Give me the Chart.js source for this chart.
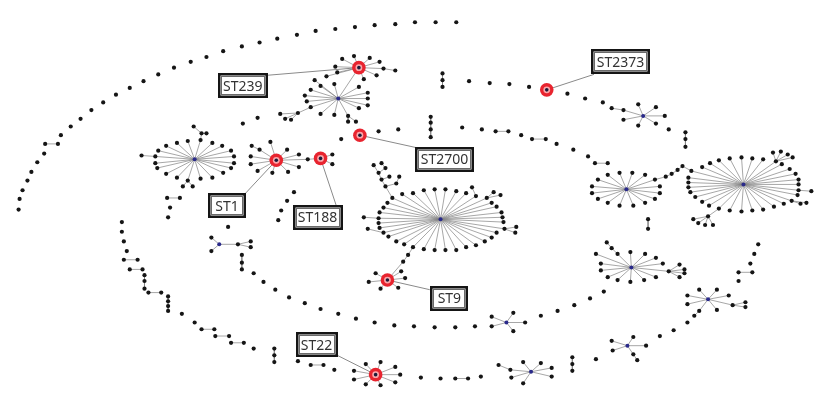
<!DOCTYPE html>
<html>
<head>
<meta charset="utf-8">
<script src="https://cdn.jsdelivr.net/npm/chart.js@4/dist/chart.umd.min.js"></script>
<style>
  html, body { margin: 0; padding: 0; background: #ffffff; }
  #wrap { width: 826px; height: 394px; }
</style>
</head>
<body>
<div id="wrap"><canvas id="tree" width="826" height="394"></canvas></div>
<script>
// ---- Minimum spanning tree of sequence types (layout coordinates) ----

// Highlighted sequence types
const stNames  = ['ST239', 'ST2373', 'ST2700', 'ST1', 'ST188', 'ST9', 'ST22'];
const stPoints = [[358, 63], [549, 86], [359, 133], [274, 159], [319, 157], [387, 283], [375, 381]];
const labelCenters = [[240, 82], [624, 57], [445, 158], [224, 206], [316, 218], [450, 302], [315, 350]];
const labelAttach  = [[264, 71], [597, 70], [417, 146], [241, 195], [335, 206], [430, 293], [336, 361]];

// Leaves hanging directly off the highlighted types
const leavesST239 = [[341,54],[353,51],[369,53],[379,57],[383,64],[376,71],[363,75],[336,68],[334,62],[325,72]];
const leavesST1   = [[268,140],[257,148],[248,155],[248,163],[255,170],[270,172],[286,171],[297,166],[297,153],[285,148],[306,158]];
const leavesST188 = [[331,153],[331,163]];
const leavesST9   = [[375,276],[368,285],[380,292],[398,291],[405,281],[401,274]];
const leavesST22  = [[365,370],[380,368],[395,373],[400,381],[395,389],[380,392],[365,391],[353,386],[353,377]];

// Founder nodes (blue) of the star-shaped clonal complexes
const hubCentral = [441, 220];
const hubEast    = [749, 184];
const hubWest    = [191, 158];
const hubNorth   = [337, 95];
const hubMid     = [630, 189];
const hubSouthE  = [635, 270];
const hubTopR    = [647, 113];
const hubFarR    = [713, 303];
const hubLowR    = [631, 351];
const hubBottom  = [533, 378];
const hubSmall   = [508, 327];
const hubLeft    = [216, 246];

const leavesCentral = [[413,193],[424,190],[435,189],[446,189],[457,191],[467,193],[477,196],[488,198],[493,203],[498,207],[503,213],[504,218],[505,223],[506,230],[498,234],[493,239],[486,243],[477,247],[467,249],[457,252],[446,252],[435,252],[424,251],[413,249],[404,246],[396,243],[388,238],[383,234],[379,229],[378,224],[378,219],[379,213],[383,208],[387,203],[392,198],[402,194]];
const leavesEast = [[724,159],[735,157],[747,156],[758,157],[769,158],[782,160],[788,163],[796,168],[802,173],[805,179],[805,184],[805,190],[804,195],[798,201],[790,204],[780,207],[769,210],[758,211],[747,212],[735,211],[724,209],[714,206],[707,202],[700,197],[695,192],[693,187],[693,182],[693,177],[696,170],[707,166],[715,162]];
const leavesWest = [[154,149],[151,155],[151,162],[153,167],[162,173],[173,177],[184,180],[197,178],[209,177],[220,172],[228,167],[231,162],[231,155],[228,149],[219,144],[209,141],[197,138],[184,139],[173,141],[162,144]];
const leavesNorth = [[313,76],[319,82],[309,86],[303,92],[305,98],[319,111],[333,112],[347,113],[358,105],[367,102],[367,95],[367,89],[358,83],[333,80],[309,104]];
const leavesMid = [[595,186],[595,193],[601,179],[601,199],[611,174],[611,203],[623,172],[623,206],[636,172],[637,206],[649,174],[649,203],[659,179],[659,199],[664,186],[664,193]];
const leavesSouthE = [[599,256],[604,266],[604,273],[611,280],[621,283],[634,285],[648,283],[660,280],[667,266],[660,260],[649,256],[634,254],[621,256],[673,274]];
const leavesTopR  = [[627,117],[642,101],[660,104],[669,113],[660,121],[642,123],[627,107]];
const leavesFarR  = [[692,299],[692,308],[704,293],[722,293],[734,299],[722,314],[738,309],[704,315]];
const leavesLowR  = [[615,346],[616,356],[637,342],[650,351],[637,360]];
const leavesBottom = [[512,376],[525,368],[543,369],[554,374],[554,383],[525,390],[513,384]];
const leavesSmall = [[493,321],[493,331],[515,317],[527,327],[515,336]];
const leavesLeft  = [[208,239],[208,253],[235,246]];

// Branches continuing beyond first-level leaves
const branchesCentre = [
  [[477,196],[473,187]], [[488,198],[495,192]], [[488,198],[502,195]],
  [[506,230],[518,228]], [[506,230],[517,234]],
  [[378,219],[363,218]], [[383,234],[367,230]],
  [[413,249],[408,257],[403,264],[387,283]],
  [[392,198],[385,186],[381,179],[378,172],[373,164]],
  [[385,186],[396,183],[399,176]], [[378,172],[385,167],[381,162]], [[381,179],[389,176]]
];
const branchesEast = [
  [[782,160],[779,151]], [[782,160],[787,150]], [[782,160],[794,153]], [[782,160],[799,156]],
  [[805,190],[818,191]], [[798,201],[807,204]], [[798,201],[813,203]],
  [[724,209],[713,217],[698,220]], [[713,217],[703,224]], [[713,217],[710,226]], [[713,217],[718,226]],
  [[659,179],[670,176],[676,173],[682,169],[687,165],[696,170]],
  [[621,256],[615,250],[610,244]],
  [[673,274],[684,267]], [[673,274],[689,272]], [[673,274],[689,276]], [[673,274],[684,280]],
  [[615,105],[627,107]],
  [[738,309],[751,306]], [[738,309],[751,311]], [[704,315],[699,320]],
  [[637,360],[641,366]], [[512,376],[500,371]]
];
const branchesWest = [
  [[235,246],[248,243]], [[235,246],[248,249]],
  [[151,155],[137,154]], [[197,138],[198,131],[190,124]], [[198,131],[203,131]],
  [[184,180],[179,186]], [[184,180],[189,186]],
  [[347,113],[347,119]], [[347,113],[355,119]],
  [[309,104],[296,110],[289,117]], [[296,110],[283,116]], [[296,110],[278,111]],
  [[383,64],[395,66]], [[358,63],[337,95]],
  [[306,158],[319,157]], [[257,148],[249,144]]
];

// Short linked pairs / runs among the singletons
const linkedRuns = [
  [[39,142],[52,142]], [[163,198],[176,198]], [[119,262],[133,262]], [[125,272],[138,272]],
  [[140,278],[140,284],[140,292]], [[144,296],[157,296]], [[164,300],[164,305],[164,310],[164,315]],
  [[198,334],[211,334]], [[212,341],[226,341]], [[228,348],[241,348]],
  [[272,354],[272,361],[272,368]], [[309,371],[322,371]], [[456,385],[469,385]],
  [[575,363],[575,370],[575,377]], [[744,275],[758,275]], [[239,257],[239,265],[239,272]],
  [[652,220],[652,230]], [[431,114],[431,120],[431,127],[431,135]], [[497,129],[510,129]],
  [[534,137],[548,137]], [[598,162],[611,162]], [[443,69],[443,76],[443,83]],
  [[690,130],[690,137],[690,145]]
];

// Unlinked singletons arranged on the outer rings
const outerRingDots = [[457,16],[436,16],[415,16],[395,18],[374,19],[354,21],[334,23],[314,25],[295,29],[275,33],[257,37],[239,41],[220,46],[203,52],[187,57],[170,63],[154,70],[139,77],[125,84],[111,91],[98,99],[86,107],[75,116],[65,124],[55,133],[38,152],[31,161],[25,171],[21,180],[16,190],[13,199],[12,210]];
const lowerRingDots = [[166,208],[164,218],[117,223],[117,233],[119,243],[122,253],[178,318],[191,327],[251,354],[296,367],[333,376],[421,384],[441,385],[482,383],[599,365],[664,341],[678,335],[692,327],[744,284],[756,266],[760,256],[764,246]];
const middleRingDots = [[225,228],[251,276],[261,285],[273,293],[287,301],[303,307],[319,313],[337,318],[355,323],[374,327],[394,330],[414,331],[435,332],[456,332],[476,331],[543,320],[560,315],[577,309],[593,302],[607,295]];
const innerRingDots = [[240,121],[255,115],[292,192],[285,201],[279,211],[276,221],[340,137],[378,129],[398,127],[463,125],[483,127],[523,133],[559,142],[576,148],[591,155],[470,77],[491,79],[511,80],[531,83],[570,90],[588,95],[606,99],[673,127]];

// ---- assemble datasets ----
const stars = [
  [hubCentral, leavesCentral], [hubEast, leavesEast], [hubWest, leavesWest], [hubNorth, leavesNorth],
  [hubMid, leavesMid], [hubSouthE, leavesSouthE], [hubTopR, leavesTopR], [hubFarR, leavesFarR],
  [hubLowR, leavesLowR], [hubBottom, leavesBottom], [hubSmall, leavesSmall], [hubLeft, leavesLeft],
  [stPoints[0], leavesST239], [stPoints[3], leavesST1], [stPoints[4], leavesST188],
  [stPoints[5], leavesST9], [stPoints[6], leavesST22]
];
const paths = [].concat(branchesCentre, branchesEast, branchesWest, linkedRuns);

const edgeData = [];
const leaderData = [];
function pushPath(list, pts) {
  pts.forEach(p => list.push({ x: p[0], y: p[1] }));
  list.push({ x: pts[pts.length - 1][0], y: null });
}
stars.forEach(([hub, leaves]) => leaves.forEach(l => pushPath(edgeData, [hub, l])));
paths.forEach(p => pushPath(edgeData, p));
stPoints.forEach((p, i) => pushPath(leaderData, [p, labelAttach[i]]));

const hubList = [hubCentral, hubEast, hubWest, hubNorth, hubMid, hubSouthE, hubTopR, hubFarR, hubLowR, hubBottom, hubSmall, hubLeft];
const seen = new Set();
const dotData = [];
function addDot(p) {
  const k = p[0] + ',' + p[1];
  if (seen.has(k)) return;
  seen.add(k);
  dotData.push({ x: p[0], y: p[1] });
}
hubList.concat(stPoints).forEach(p => seen.add(p[0] + ',' + p[1]));
stars.forEach(([, leaves]) => leaves.forEach(addDot));
paths.forEach(p => p.forEach(addDot));
[outerRingDots, lowerRingDots, middleRingDots, innerRingDots].forEach(a => a.forEach(addDot));

const toXY = a => a.map(p => ({ x: p[0], y: p[1] }));

// Label boxes with double frame, drawn in data space
const stLabels = {
  id: 'stLabels',
  afterDatasetsDraw(chart) {
    const { ctx, scales: { x, y } } = chart;
    ctx.save();
    ctx.font = '14px "Noto Sans", "Open Sans", sans-serif';
    ctx.textAlign = 'center';
    ctx.textBaseline = 'middle';
    stNames.forEach((name, i) => {
      const cx = x.getPixelForValue(labelCenters[i][0]);
      const cy = y.getPixelForValue(labelCenters[i][1]);
      const w = Math.max(38, Math.round(ctx.measureText(name).width + 11));
      const h = 25;
      const l = Math.round(cx - w / 2), t = Math.round(cy - h / 2);
      ctx.fillStyle = '#ffffff';
      ctx.fillRect(l, t, w, h);
      ctx.strokeStyle = '#151515';
      ctx.lineWidth = 2.5;
      ctx.strokeRect(l + 1.25, t + 1.25, w - 2.5, h - 2.5);
      ctx.lineWidth = 1;
      ctx.strokeStyle = '#6a6a6a';
      ctx.strokeRect(l + 3.5, t + 3.5, w - 7, h - 7);
      ctx.fillStyle = '#333333';
      ctx.fillText(name, cx, cy + 1);
    });
    ctx.restore();
  }
};

new Chart(document.getElementById('tree'), {
  type: 'scatter',
  data: {
    datasets: [
      { label: 'ST centre', data: toXY(stPoints), pointRadius: 1.8, pointBackgroundColor: '#1b1b3a', pointBorderWidth: 0, clip: false },
      { label: 'ST inner', data: toXY(stPoints), pointRadius: 3.4, pointBackgroundColor: 'rgba(250,175,178,0.95)', pointBorderWidth: 0, clip: false },
      { label: 'ST ring', data: toXY(stPoints), pointRadius: 6.8, pointBackgroundColor: '#e8242f', pointBorderWidth: 0, clip: false },
      { label: 'founders', data: toXY(hubList), pointRadius: 2, pointBackgroundColor: '#2a2a8a', pointBorderWidth: 0, clip: false },
      { label: 'types', data: dotData, pointRadius: 2.1, pointBackgroundColor: '#151515', pointBorderWidth: 0, clip: false },
      { label: 'leaders', data: leaderData, showLine: true, spanGaps: false, pointRadius: 0, borderColor: '#8a8a8a', borderWidth: 1, tension: 0, clip: false },
      { label: 'links', data: edgeData, showLine: true, spanGaps: false, pointRadius: 0, borderColor: 'rgba(130,130,130,0.7)', borderWidth: 1, tension: 0, clip: false }
    ]
  },
  options: {
    responsive: false,
    animation: false,
    devicePixelRatio: 1,
    layout: { padding: 0 },
    scales: {
      x: { type: 'linear', min: 0, max: 826, display: false },
      y: { type: 'linear', min: 0, max: 394, reverse: true, display: false }
    },
    plugins: { legend: { display: false }, tooltip: { enabled: false } },
    events: []
  },
  plugins: [stLabels]
});
</script>
</body>
</html>
